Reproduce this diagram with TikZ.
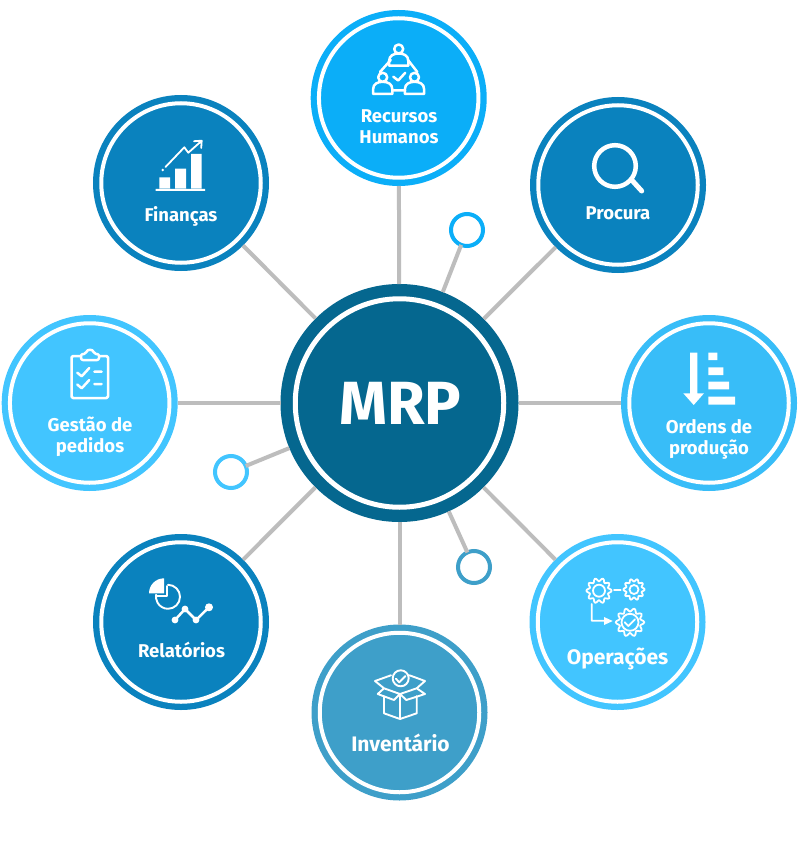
\documentclass[tikz,border=0pt]{standalone}
\usepackage{fontspec}
\setmainfont{Fira Sans}
\usepackage{xcolor}
\definecolor{hubdark}{HTML}{05678F}
\definecolor{rhblue}{HTML}{0BAEF8}
\definecolor{midblue}{HTML}{0A82BE}
\definecolor{skyblue}{HTML}{38BDF8}
\definecolor{lightblue}{HTML}{42C5FF}
\definecolor{steelblue}{HTML}{3E9FC9}
\definecolor{linkgray}{HTML}{BDBDBD}

\tikzset{
    hub node/.style={circle,outer sep=0pt,inner sep=0pt,minimum size=176pt},
    ring node/.style={circle,draw=white,line width=4pt,outer sep=0pt,inner sep=0pt,minimum size=159.5pt},
    dot node/.style={circle,fill=white,draw=#1,line width=4pt,outer sep=0pt,inner sep=0pt,minimum size=32pt},
    link/.style={draw=linkgray,line width=4pt},
    lbl/.style={text=white,font=\bfseries\fontsize{18.5}{21}\selectfont,align=center,inner sep=0pt},
    big lbl/.style={lbl,font=\bfseries\fontsize{21}{21}\selectfont},
    icon/.style={draw=white,line width=2.5pt,line cap=round,line join=round},
    icon thin/.style={draw=white,line width=1.8pt,line cap=round,line join=round},
}

\newcommand{\personicon}[2]{
    \draw[icon,shift={(#1,#2)}] (0,0) circle[radius=4.5]
        (-9.6,16.7) -- (-9.6,12) .. controls (-9.6,6.5) and (-5,4.5) .. (0,4.5)
        .. controls (5,4.5) and (9.6,6.5) .. (9.6,12) -- (9.6,16.7) -- cycle;
}
\newcommand{\gearicon}[3]{
    \draw[icon thin,shift={(#1,#2)}] plot[smooth cycle,domain=0:354,samples=60,variable=\t]
        (\t:{#3*(0.87+0.13*cos(10*\t))});
}

\begin{document}
\begin{tikzpicture}[x=1pt,y=-1pt]

    \useasboundingbox (0,0) rectangle (800,842);
    \fill[white] (0,0) rectangle (800,842);

    \node[hub node,minimum size=238pt,fill=hubdark] (mrp) at (399.5,403) {};
    \node[ring node,line width=5pt,minimum size=208.5pt] (mrp ring) at (mrp) {};
    \node[text=white,font=\bfseries\fontsize{61}{61}\selectfont,inner sep=0pt] (mrp label) at (400.5,403) {MRP};

    \foreach \name/\cx/\cy/\col in {
        rh/398.7/98/rhblue, fin/181/183/midblue, proc/618/185/midblue,
        ord/709/403/skyblue, gest/89.7/403/lightblue, oper/617.5/622/lightblue,
        inv/399.5/712.5/steelblue, rel/181/622/midblue}{
        \node[hub node,fill=\col] (\name) at (\cx,\cy) {};
        \node[ring node] (\name ring) at (\name) {};
        \path (mrp) edge[link] (\name);
    }

    \foreach \name/\cx/\cy/\col in {
        dota/467/230/rhblue, dotb/231/472/lightblue, dotc/474/567/steelblue}{
        \node[dot node=\col] (\name) at (\cx,\cy) {};
        \path (mrp) edge[link] (\name);
    }

    \node[lbl] (rh label) at (399,126.5) {Recursos\\Humanos};
    \node[lbl] (fin label) at (181,216) {Finanças};
    \node[lbl] (proc label) at (618,213.5) {Procura};
    \node[lbl] (ord label) at (709,439.5) {Ordens de\\produção};
    \node[lbl] (gest label) at (90,436.5) {Gestão de\\pedidos};
    \node[big lbl] (oper label) at (617.5,659) {Operações};
    \node[big lbl] (inv label) at (400.5,743) {Inventário};
    \node[lbl] (rel label) at (181.5,649.5) {Relatórios};

    % recursos humanos
    \personicon{398.7}{49}
    \personicon{382.7}{77.3}
    \personicon{414.5}{77.3}
    \draw[icon] (390.7,60) -- (380,72) (408,60) -- (417.3,72) (393.3,90.5) -- (405,90.5);
    \draw[icon] (393.3,76.7) -- (398.2,80.5) -- (405.3,72.7);

    % financas
    \fill[white] (159.3,177.3) rectangle (170,188.3)
        (175,168.7) rectangle (186,188.3) (191,154) rectangle (201.7,188.3)
        (155.7,189) rectangle (205,191);
    \fill[white] (162.7,170) circle[radius=1.3];
    \draw[icon thin] (165.5,167) -- (184.3,147.3) -- (188.3,152.7) -- (201.5,141)
        (194,141.2) -- (201.7,140.7) -- (201.2,148);

    % procura
    \draw[white,line width=4.5pt] (615,166) circle[radius=20.8];
    \draw[white,line width=5pt,line cap=round] (631.7,180) -- (641.7,191);

    % ordens de producao
    \fill[white] (690,352.7) rectangle (697.3,393.3)
        (683.3,393.3) -- (704,393.3) -- (693.7,405) -- cycle;
    \fill[white] (708.3,352.7) rectangle (717.3,360)
        (708.3,367.3) rectangle (723.3,375)
        (708.3,381.7) rectangle (729,389.3)
        (708.3,396.7) rectangle (735,404.7);

    % gestao de pedidos
    \draw[icon,rounded corners=1.5pt] (81,356) -- (71.5,356) -- (71.5,398) -- (108,398) -- (108,356) -- (99,356);
    \draw[icon,rounded corners=2pt] (81,354) -- (81,360) -- (99,360) -- (99,354) -- (94,354)
        .. controls (93,349) and (87,349) .. (86,354) -- cycle;
    \draw[icon] (77.3,372.7) -- (81.7,376.3) -- (89.3,368) (77.3,384.5) -- (81.7,388.3) -- (89.3,380)
        (94.3,371.7) -- (101.7,371.7) (94.3,384) -- (101.7,384);

    % operacoes
    \gearicon{599}{590.7}{12.7}
    \gearicon{634}{589.5}{10.7}
    \gearicon{630}{622.3}{14.3}
    \draw[icon thin] (599,590.7) circle[radius=6] (634,589.5) circle[radius=4.5] (630,622.3) circle[radius=8.5];
    \draw[icon thin] (614,590) -- (620.7,590) (591.7,604) -- (591.7,620.7) -- (606,620.7)
        (624.8,622.3) -- (628.3,626) -- (635,619.3);
    \fill[white] (604,617) -- (612.7,621) -- (604,625) -- cycle;

    % inventario
    \draw[icon thin,line width=1.9pt] (384,696) -- (384,713.3) -- (400,719) -- (416.7,713.3) -- (416.7,696)
        (400,694) -- (400,719)
        (384,688.3) -- (377.7,694) -- (394,700) -- (400,694) -- (406.3,700) -- (425,694) -- (416.7,688.3)
        (384,688.3) -- (400,694) -- (416.7,688.3)
        (391,675.3) -- (375,681) -- (384,688.3)
        (409.5,675.3) -- (425,681) -- (416.7,688.3);
    \draw[icon thin,line width=1.9pt] (400.7,678.3) circle[radius=8];
    \draw[icon thin,line width=1.9pt] (395.9,678.7) -- (399.3,682.3) -- (405.5,676);

    % relatorios
    \fill[white] (164,593.3) -- (149,593.3) arc[start angle=180,end angle=270,radius=15] -- cycle;
    \draw[icon thin,line width=1.9pt] (168,584.8) arc[start angle=-90,end angle=190,radius=12] ;
    \draw[icon thin,line width=1.9pt] (167.3,586) -- (167.3,596.3) -- (156.5,596.3);
    \draw[white,line width=2.5pt,line join=round] (175,620) -- (185,609) -- (196,620) -- (209,607.3);
    \fill[white] (175,620) circle[radius=3.4] (185,609) circle[radius=3.4]
        (196,620) circle[radius=3.4] (209,607.3) circle[radius=4];

\end{tikzpicture}
\end{document}
